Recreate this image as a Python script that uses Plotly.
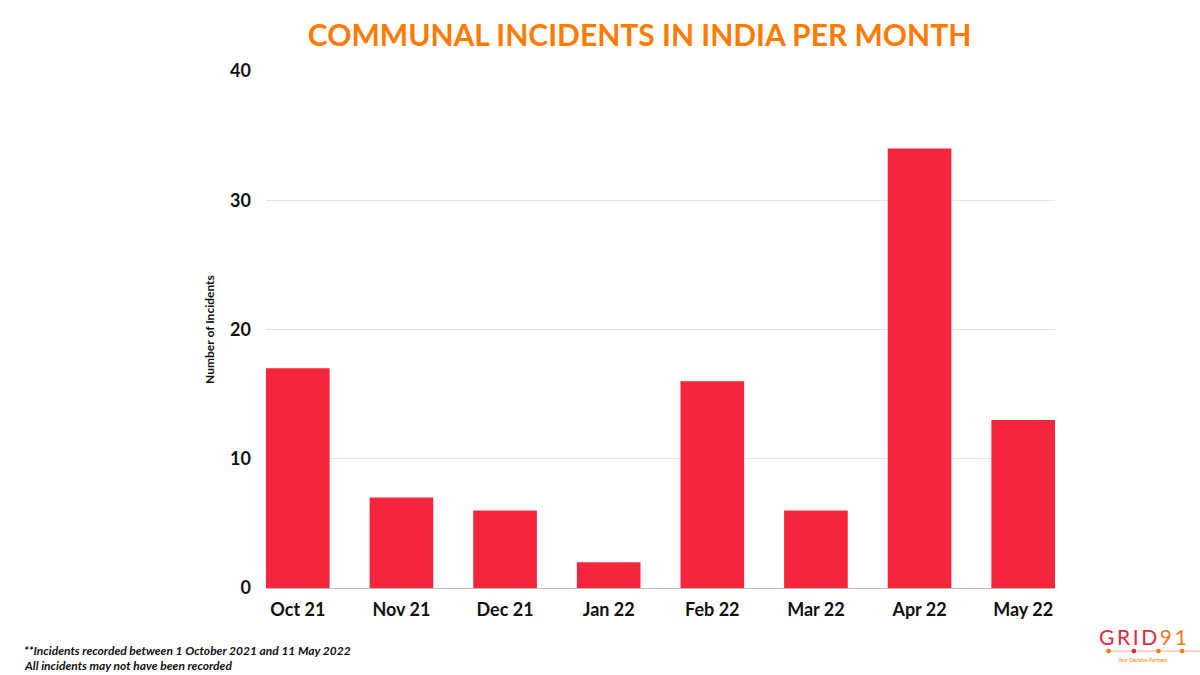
import plotly.graph_objects as go

months = ["Oct 21", "Nov 21", "Dec 21", "Jan 22", "Feb 22", "Mar 22", "Apr 22", "May 22"]
incidents = [17, 7, 6, 2, 16, 6, 34, 13]
y_ticks = [0, 10, 20, 30, 40]

RED = "#F5263B"
ORANGE = "#FF7A00"
GAP = 0.386

fig = go.Figure(
    go.Bar(x=months, y=incidents, marker=dict(color=RED, line=dict(width=0)), hoverinfo="x+y")
)

fig.update_layout(
    width=1200,
    height=675,
    paper_bgcolor="white",
    plot_bgcolor="white",
    margin=dict(l=266, r=145, t=71, b=87, autoexpand=False),
    bargap=GAP,
    showlegend=False,
    font=dict(family="Lato", color="#111111"),
    title=dict(
        text="COMMUNAL INCIDENTS IN INDIA PER MONTH",
        x=0.533,
        xanchor="center",
        y=0.948,
        yanchor="middle",
        font=dict(family="Lato", size=30, color=ORANGE, weight=700),
    ),
)

# bars touch both ends of the axis, as in the reference
half = (1 - GAP) / 2
fig.update_xaxes(
    range=[-half, len(months) - 1 + half],
    showgrid=False,
    showline=True,
    linecolor="#bdbdbd",
    linewidth=1,
    ticks="",
    tickfont=dict(size=18, weight=700, color="#111111"),
    ticklabelstandoff=5,
    automargin=False,
)
fig.update_yaxes(
    range=[0, 40],
    tickvals=y_ticks,
    showgrid=True,
    gridcolor="#e4e4e4",
    zeroline=False,
    ticks="",
    tickfont=dict(size=18, weight=700, color="#111111"),
    ticklabelstandoff=14,
    automargin=False,
    title=dict(text="Number of Incidents", font=dict(size=12, weight=700, color="#111111"), standoff=12),
)

# footnote
fig.add_annotation(
    text="<i>**Incidents recorded between 1 October 2021 and 11 May 2022</i>",
    xref="paper", yref="paper", x=-0.309, y=-0.12, xanchor="left", yanchor="middle",
    showarrow=False, font=dict(size=12, weight=700, color="#111111"),
)
fig.add_annotation(
    text="<i>All incidents may not have been recorded</i>",
    xref="paper", yref="paper", x=-0.309, y=-0.149, xanchor="left", yanchor="middle",
    showarrow=False, font=dict(size=12, weight=700, color="#111111"),
)

# logo
fig.add_annotation(
    text="<span style='color:#E8273A'>G\u2009R\u2009I\u2009D\u2009</span><span style='color:#F47920'>9\u20091</span>",
    xref="paper", yref="paper", x=1.111, y=-0.093, xanchor="center", yanchor="middle",
    showarrow=False, font=dict(size=21, weight=400),
)
fig.add_shape(
    type="line", xref="paper", yref="paper", x0=1.063, x1=1.184, y0=-0.122, y1=-0.122,
    line=dict(color="#F5A3A3", width=1),
)
for px, c in [(1.068, ORANGE), (1.100, "#E8273A"), (1.131, ORANGE), (1.161, ORANGE)]:
    fig.add_shape(
        type="circle", xref="paper", yref="paper", x0=px - 0.003, x1=px + 0.003,
        y0=-0.1265, y1=-0.1175, fillcolor=c, line=dict(width=0),
    )
fig.add_annotation(
    text="Your Decisive Partners",
    xref="paper", yref="paper", x=1.111, y=-0.139, xanchor="center", yanchor="middle",
    showarrow=False, font=dict(size=5, color=ORANGE),
)

fig.write_html(
    "out.html",
    config={"displayModeBar": False},
    post_script="document.body.style.margin='0';",
)
